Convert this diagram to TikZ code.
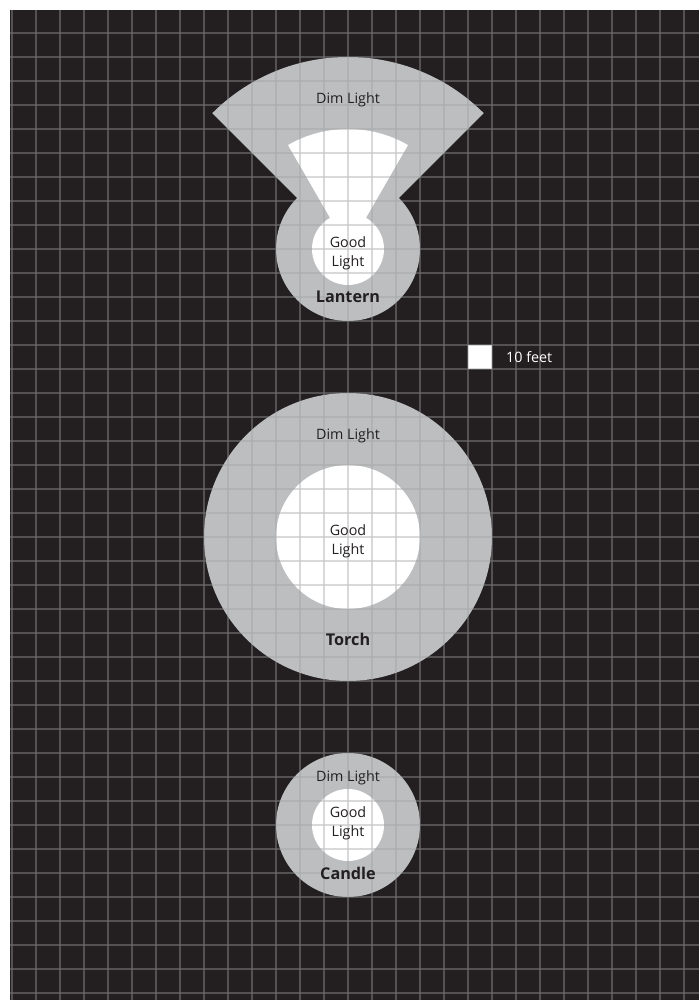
\documentclass[tikz,border=0pt]{standalone}
\usepackage{fontspec}
\setmainfont{Open Sans}
\definecolor{bgdark}{HTML}{231F20}
\definecolor{lightgrey}{HTML}{BCBEC0}
\definecolor{gridc}{HTML}{A0A0A0}
\begin{document}
\begin{tikzpicture}[x=1pt,y=1pt,
  lbl/.style={text=bgdark, font=\fontsize{14.3}{19}\selectfont, align=center, inner sep=0pt},
  ttl/.style={text=bgdark, font=\fontsize{16.2}{19}\selectfont\bfseries, align=center, inner sep=0pt},
  dimzone/.style={fill=lightgrey},
  goodzone/.style={fill=white},
  gridline/.style={draw=gridc, line width=1.4pt}]
\useasboundingbox (0,0) rectangle (699,1000);
\fill[bgdark] (10,0) rectangle (699,990);
% lantern
\coordinate (L) at (348,751);
\fill[dimzone] (L) circle (72);
\fill[dimzone] (L) -- ++(45:192) arc (45:135:192) -- cycle;
\fill[goodzone] (L) circle (36);
\fill[goodzone] (L) -- ++(60:120) arc (60:120:120) -- cycle;
% torch
\coordinate (T) at (348,463);
\fill[dimzone] (T) circle (144);
\fill[goodzone] (T) circle (72);
% candle
\coordinate (C) at (348,175);
\fill[dimzone] (C) circle (72);
\fill[goodzone] (C) circle (36);
% scale square
\fill[goodzone] (468,631) rectangle (492,655);
% grid
\begin{scope}[transparency group, opacity=0.6]
\foreach \k in {0,...,28} \draw[gridline] (12+24*\k,0) -- (12+24*\k,990);
\foreach \k in {0,...,40} \draw[gridline] (10,967-24*\k) -- (699,967-24*\k);
\end{scope}
% labels
\node[lbl] (ldim) at (348,900) {Dim Light};
\node[lbl] (lgood) at (348,747) {Good\\Light};
\node[ttl] (lname) at (348,703) {Lantern};
\node[lbl, anchor=west, text=white] (scale) at (506,643) {10 feet};
\node[lbl] (tdim) at (348,564) {Dim Light};
\node[lbl] (tgood) at (348,459) {Good\\Light};
\node[ttl] (tname) at (348,361) {Torch};
\node[lbl] (cdim) at (348,222) {Dim Light};
\node[lbl] (cgood) at (348,177) {Good\\Light};
\node[ttl] (cname) at (348,127) {Candle};
\end{tikzpicture}
\end{document}
